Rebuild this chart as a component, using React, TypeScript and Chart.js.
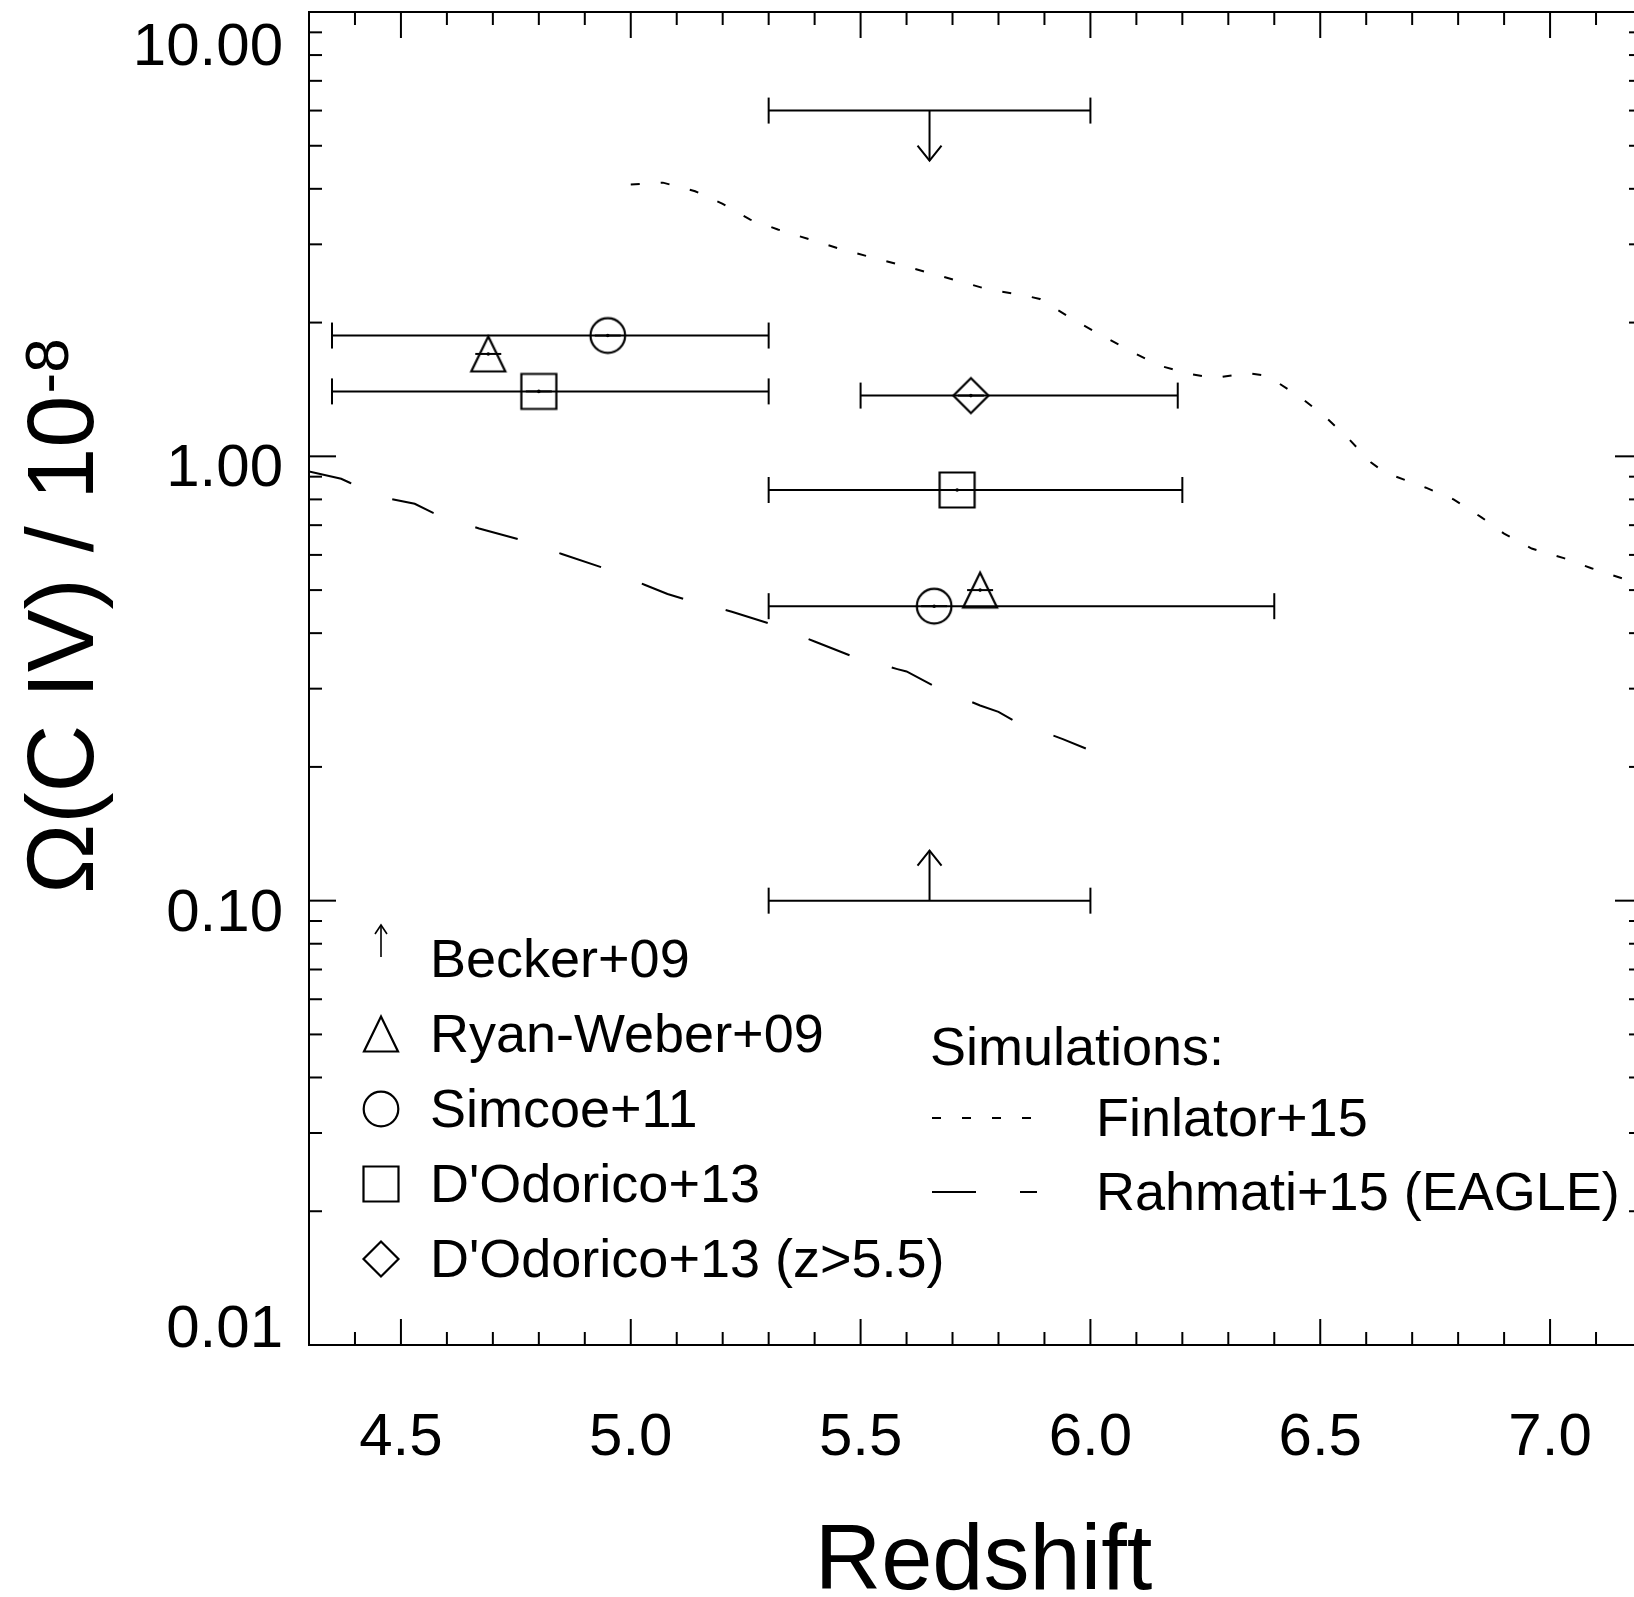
import React, { useEffect, useRef } from 'react';
import { Chart, registerables } from 'chart.js';

Chart.register(...registerables);

const FONT = '"Liberation Sans", Arial, Helvetica, sans-serif';

// ---- axis ranges & tick labels ----
const X_MIN = 4.3;
const X_MAX = 7.2;
const Y_MIN = 0.01;
const Y_MAX = 10;
const X_TICK_VALUES = [4.5, 5.0, 5.5, 6.0, 6.5, 7.0];
const X_TICK_LABELS = ['4.5', '5.0', '5.5', '6.0', '6.5', '7.0'];
const Y_TICK_VALUES = [0.01, 0.1, 1, 10];
const Y_TICK_LABELS = ['0.01', '0.10', '1.00', '10.00'];
const X_TITLE = 'Redshift';
const Y_TITLE_MAIN = 'Ω(C IV) / 10';
const Y_TITLE_SUP = '-8';

// ---- observations (redshift, Omega(CIV)/1e-8, redshift range) ----
const BECKER_Z = [5.65];
const BECKER_OMEGA = [0.10];
const BECKER_ZMIN = [5.30];
const BECKER_ZMAX = [6.00];

const UPPER_Z = [5.65];
const UPPER_OMEGA = [6.0];
const UPPER_ZMIN = [5.30];
const UPPER_ZMAX = [6.00];

const RYAN_Z = [4.69, 5.76];
const RYAN_OMEGA = [1.70, 0.50];
const RYAN_ZMIN = [4.69, 5.76];
const RYAN_ZMAX = [4.69, 5.76];

const SIMCOE_Z = [4.95, 5.66];
const SIMCOE_OMEGA = [1.87, 0.46];
const SIMCOE_ZMIN = [4.35, 5.30];
const SIMCOE_ZMAX = [5.30, 6.40];

const DODORICO_Z = [4.80, 5.71];
const DODORICO_OMEGA = [1.40, 0.84];
const DODORICO_ZMIN = [4.35, 5.30];
const DODORICO_ZMAX = [5.30, 6.20];

const DODORICO55_Z = [5.74];
const DODORICO55_OMEGA = [1.37];
const DODORICO55_ZMIN = [5.50];
const DODORICO55_ZMAX = [6.19];

// ---- simulations ----
const FINLATOR_Z = [5.00, 5.07, 5.14, 5.20, 5.26, 5.32, 5.46, 5.59, 5.72, 5.78, 5.85, 5.89, 5.97, 6.09, 6.15, 6.22, 6.27, 6.34, 6.38, 6.41, 6.46, 6.51, 6.56, 6.61, 6.64, 6.73, 6.79, 6.85, 6.90, 6.96, 7.03, 7.09, 7.16, 7.20];
const FINLATOR_OMEGA = [4.09, 4.13, 3.95, 3.70, 3.41, 3.24, 2.92, 2.69, 2.47, 2.37, 2.31, 2.26, 2.01, 1.72, 1.60, 1.53, 1.50, 1.54, 1.52, 1.46, 1.35, 1.23, 1.10, 0.97, 0.92, 0.85, 0.80, 0.73, 0.67, 0.62, 0.59, 0.56, 0.53, 0.51];

const RAHMATI_Z = [4.30, 4.37, 4.39, 4.48, 4.53, 4.57, 4.67, 4.76, 4.85, 4.94, 5.03, 5.08, 5.12, 5.22, 5.31, 5.40, 5.49, 5.58, 5.60, 5.67, 5.76, 5.80, 5.84, 5.94, 5.99];
const RAHMATI_OMEGA = [0.924, 0.890, 0.871, 0.801, 0.782, 0.746, 0.688, 0.649, 0.603, 0.561, 0.514, 0.490, 0.476, 0.447, 0.418, 0.383, 0.352, 0.332, 0.328, 0.300, 0.275, 0.266, 0.252, 0.231, 0.220];

// ---- legend texts ----
const OBS_LABELS = ['Becker+09', 'Ryan-Weber+09', 'Simcoe+11', "D'Odorico+13", "D'Odorico+13 (z>5.5)"];
const OBS_SYMBOLS = ['arrow', 'triangle', 'circle', 'square', 'diamond'];
const SIM_TITLE = 'Simulations:';
const SIM_LABELS = ['Finlator+15', 'Rahmati+15 (EAGLE)'];

const FINLATOR_DASH = [9, 21];
const RAHMATI_DASH = [44, 44];

function makeMarker(shape: string): HTMLCanvasElement {
  const c = document.createElement('canvas');
  c.width = 44;
  c.height = 44;
  const g = c.getContext('2d')!;
  g.strokeStyle = '#000';
  g.lineWidth = 2.2;
  const cx = 22, cy = 22, s = 17.5;
  g.beginPath();
  if (shape === 'triangle') {
    g.moveTo(cx, cy - s);
    g.lineTo(cx + 17, cy + s);
    g.lineTo(cx - 17, cy + s);
    g.closePath();
  } else if (shape === 'circle') {
    g.arc(cx, cy, 17.3, 0, Math.PI * 2);
  } else if (shape === 'square') {
    g.rect(cx - s, cy - s, 2 * s, 2 * s);
  } else if (shape === 'diamond') {
    g.moveTo(cx, cy - s);
    g.lineTo(cx + s, cy);
    g.lineTo(cx, cy + s);
    g.lineTo(cx - s, cy);
    g.closePath();
  }
  g.stroke();
  return c;
}

function pts(z: number[], om: number[], lo: number[], hi: number[]) {
  return z.map((v, i) => ({ x: v, y: om[i], xMin: lo[i], xMax: hi[i] }));
}

function line(ctx: CanvasRenderingContext2D, x1: number, y1: number, x2: number, y2: number) {
  ctx.beginPath();
  ctx.moveTo(x1, y1);
  ctx.lineTo(x2, y2);
  ctx.stroke();
}

export default function App() {
  const ref = useRef<HTMLCanvasElement>(null);

  useEffect(() => {
    const canvas = ref.current!;
    const markers: Record<string, HTMLCanvasElement> = {
      triangle: makeMarker('triangle'),
      circle: makeMarker('circle'),
      square: makeMarker('square'),
      diamond: makeMarker('diamond'),
    };

    const plugin = {
      id: 'civPlot',
      beforeDatasetsDraw(chart: any) {
        const ctx: CanvasRenderingContext2D = chart.ctx;
        const xs = chart.scales.x;
        const ys = chart.scales.y;
        ctx.save();
        ctx.strokeStyle = '#000';
        ctx.fillStyle = '#000';
        ctx.lineWidth = 2;
        chart.data.datasets.forEach((ds: any) => {
          if (!ds.errorBars) return;
          ds.data.forEach((d: any) => {
            const px = xs.getPixelForValue(d.x);
            const py = ys.getPixelForValue(d.y);
            if (d.xMax > d.xMin) {
              const a = xs.getPixelForValue(d.xMin);
              const b = xs.getPixelForValue(d.xMax);
              line(ctx, a, py, b, py);
              line(ctx, a, py - 13, a, py + 13);
              line(ctx, b, py - 13, b, py + 13);
            }
            if (ds.limit) {
              const dir = ds.limit === 'lower' ? -1 : 1;
              const tip = py + dir * 50;
              line(ctx, px, py, px, tip);
              ctx.beginPath();
              ctx.moveTo(px - 12, tip - dir * 15);
              ctx.lineTo(px, tip);
              ctx.lineTo(px + 12, tip - dir * 15);
              ctx.stroke();
            } else {
              line(ctx, px - 13, py, px + 13, py);
              ctx.beginPath();
              ctx.arc(px, py, 1.8, 0, Math.PI * 2);
              ctx.fill();
            }
          });
        });
        ctx.restore();
      },
      afterDraw(chart: any) {
        const ctx: CanvasRenderingContext2D = chart.ctx;
        const xs = chart.scales.x;
        const ys = chart.scales.y;
        const { left, right, top, bottom } = chart.chartArea;
        ctx.save();
        ctx.strokeStyle = '#000';
        ctx.fillStyle = '#000';
        ctx.lineWidth = 2;
        ctx.setLineDash([]);
        ctx.strokeRect(left, top, right - left, bottom - top);

        // x ticks (major every 0.5, minor every 0.1)
        for (let k = Math.round(X_MIN * 10); k <= Math.round(X_MAX * 10); k++) {
          const px = xs.getPixelForValue(k / 10);
          const len = k % 5 === 0 ? 26 : 13;
          line(ctx, px, bottom, px, bottom - len);
          line(ctx, px, top, px, top + len);
        }
        // y ticks (log)
        Y_TICK_VALUES.forEach((dec, i) => {
          const py = ys.getPixelForValue(dec);
          line(ctx, left, py, left + 27, py);
          line(ctx, right, py, right - 27, py);
          if (i < Y_TICK_VALUES.length - 1) {
            for (let m = 2; m <= 9; m++) {
              const pm = ys.getPixelForValue(m * dec);
              line(ctx, left, pm, left + 13, pm);
              line(ctx, right, pm, right - 13, pm);
            }
          }
        });

        // tick labels
        ctx.font = `60px ${FONT}`;
        ctx.textBaseline = 'alphabetic';
        ctx.textAlign = 'center';
        X_TICK_VALUES.forEach((v, i) => {
          ctx.fillText(X_TICK_LABELS[i], xs.getPixelForValue(v), bottom + 110);
        });
        ctx.textAlign = 'right';
        Y_TICK_VALUES.forEach((v, i) => {
          const py = ys.getPixelForValue(v);
          const base = Math.min(Math.max(py + 30, top + 53), bottom + 1.5);
          ctx.fillText(Y_TICK_LABELS[i], left - 26, base);
        });

        // axis titles
        ctx.textAlign = 'center';
        ctx.font = `92px ${FONT}`;
        ctx.fillText(X_TITLE, (left + right) / 2 + 8, 1589);

        ctx.save();
        ctx.translate(93, 894);
        ctx.rotate(-Math.PI / 2);
        ctx.textAlign = 'left';
        ctx.font = `94px ${FONT}`;
        ctx.fillText(Y_TITLE_MAIN, 0, 0);
        const w = ctx.measureText(Y_TITLE_MAIN).width;
        ctx.font = `62px ${FONT}`;
        ctx.fillText(Y_TITLE_SUP, w + 2, -25);
        ctx.restore();

        // observation legend
        ctx.textAlign = 'left';
        ctx.font = `54px ${FONT}`;
        OBS_LABELS.forEach((lab, i) => {
          const base = 977 + i * 75;
          ctx.fillText(lab, 430, base);
          const sym = OBS_SYMBOLS[i];
          if (sym === 'arrow') {
            ctx.lineWidth = 1.6;
            line(ctx, 381, base - 20, 381, base - 52);
            ctx.beginPath();
            ctx.moveTo(375, base - 43);
            ctx.lineTo(381, base - 52);
            ctx.lineTo(387, base - 43);
            ctx.stroke();
            ctx.lineWidth = 2;
          } else {
            const m = markers[sym];
            ctx.drawImage(m, 381 - 22, base - 18 - 22);
          }
        });

        // simulation legend
        ctx.fillText(SIM_TITLE, 930, 1065);
        const dashes = [FINLATOR_DASH, RAHMATI_DASH];
        SIM_LABELS.forEach((lab, i) => {
          const base = 1136 + i * 74;
          ctx.setLineDash([]);
          ctx.fillText(lab, 1096, base);
          ctx.setLineDash(dashes[i]);
          line(ctx, 932, base - 18, 1037, base - 18);
        });
        ctx.setLineDash([]);
        ctx.restore();
      },
    };

    const chart = new Chart(canvas, {
      type: 'scatter',
      data: {
        datasets: [
          {
            label: SIM_LABELS[0],
            data: FINLATOR_Z.map((z, i) => ({ x: z, y: FINLATOR_OMEGA[i] })),
            showLine: true,
            borderColor: '#000',
            borderWidth: 2,
            borderDash: FINLATOR_DASH,
            pointRadius: 0,
            tension: 0,
            fill: false,
          },
          {
            label: SIM_LABELS[1],
            data: RAHMATI_Z.map((z, i) => ({ x: z, y: RAHMATI_OMEGA[i] })),
            showLine: true,
            borderColor: '#000',
            borderWidth: 2,
            borderDash: RAHMATI_DASH,
            pointRadius: 0,
            tension: 0,
            fill: false,
          },
          {
            label: OBS_LABELS[0],
            data: pts(BECKER_Z, BECKER_OMEGA, BECKER_ZMIN, BECKER_ZMAX),
            pointRadius: 0,
            errorBars: true,
            limit: 'lower',
          },
          {
            label: 'upper limit',
            data: pts(UPPER_Z, UPPER_OMEGA, UPPER_ZMIN, UPPER_ZMAX),
            pointRadius: 0,
            errorBars: true,
            limit: 'upper',
          },
          {
            label: OBS_LABELS[1],
            data: pts(RYAN_Z, RYAN_OMEGA, RYAN_ZMIN, RYAN_ZMAX),
            pointStyle: markers.triangle,
            pointRadius: 20,
            errorBars: true,
          },
          {
            label: OBS_LABELS[2],
            data: pts(SIMCOE_Z, SIMCOE_OMEGA, SIMCOE_ZMIN, SIMCOE_ZMAX),
            pointStyle: markers.circle,
            pointRadius: 20,
            errorBars: true,
          },
          {
            label: OBS_LABELS[3],
            data: pts(DODORICO_Z, DODORICO_OMEGA, DODORICO_ZMIN, DODORICO_ZMAX),
            pointStyle: markers.square,
            pointRadius: 20,
            errorBars: true,
          },
          {
            label: OBS_LABELS[4],
            data: pts(DODORICO55_Z, DODORICO55_OMEGA, DODORICO55_ZMIN, DODORICO55_ZMAX),
            pointStyle: markers.diamond,
            pointRadius: 20,
            errorBars: true,
          },
        ] as any,
      },
      options: {
        responsive: false,
        animation: false,
        devicePixelRatio: 1,
        events: [],
        layout: {
          autoPadding: false,
          padding: { left: 309, right: 38, top: 12, bottom: 252 },
        },
        plugins: {
          legend: { display: false },
          tooltip: { enabled: false },
          title: { display: false },
        },
        scales: {
          x: { type: 'linear', min: X_MIN, max: X_MAX, display: false },
          y: { type: 'logarithmic', min: Y_MIN, max: Y_MAX, display: false },
        },
      } as any,
      plugins: [plugin],
    });

    return () => chart.destroy();
  }, []);

  return (
    <div
      style={{
        position: 'fixed',
        left: 0,
        top: 0,
        width: 1634,
        height: 1597,
        overflow: 'hidden',
        background: '#fff',
      }}
    >
      <canvas ref={ref} width={1680} height={1597} style={{ display: 'block', width: 1680, height: 1597 }} />
    </div>
  );
}
